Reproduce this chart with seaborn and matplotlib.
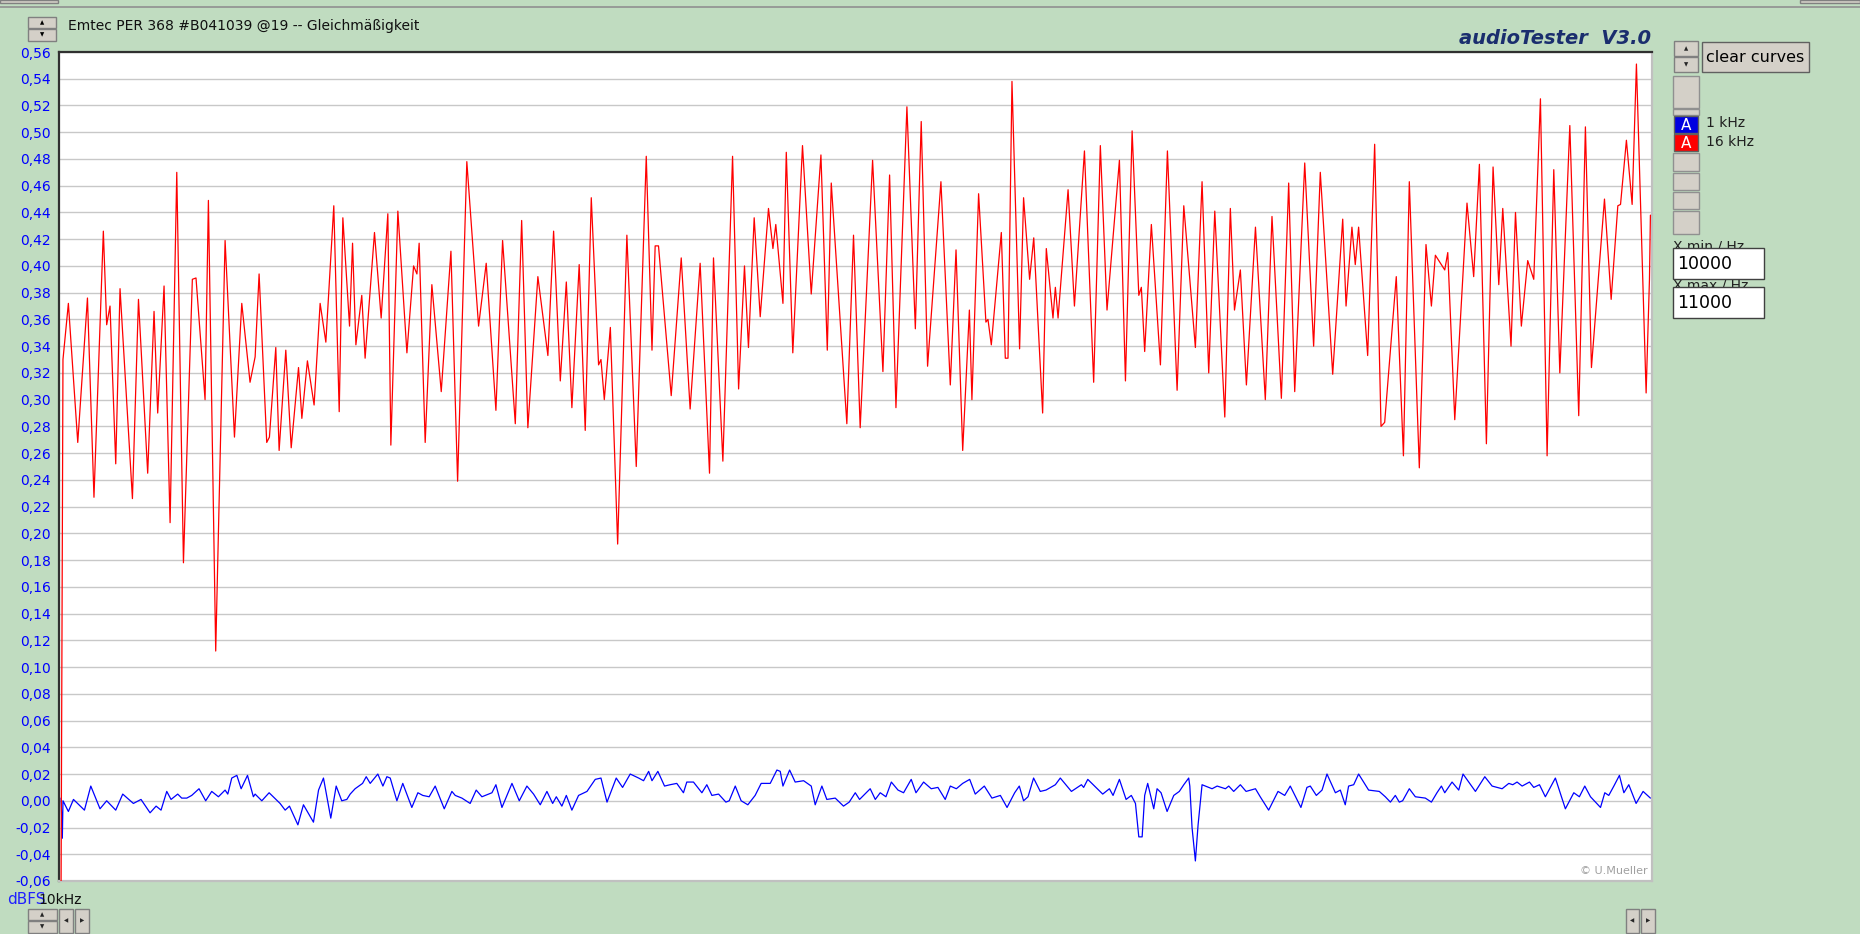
import numpy as np
import pandas as pd
import matplotlib
matplotlib.use("Agg")
import matplotlib.pyplot as plt
from matplotlib.patches import Rectangle
import seaborn as sns

# ---------------- data ----------------
red_hz = [10000.0, 10000.6, 10001.2, 10004.6, 10010.5, 10016.6, 10020.7, 10026.6, 10028.7, 10030.8, 10034.4, 10037.1,
          10044.9, 10048.7, 10054.5, 10058.5, 10060.8, 10064.8, 10068.6, 10072.8, 10077.0, 10082.6, 10084.9, 10090.6,
          10092.7, 10097.3, 10103.2, 10109.1, 10113.7, 10118.9,
          10122.1, 10124.6, 10129.4, 10131.1, 10135.1, 10137.2, 10141.4, 10144.8, 10149.4, 10151.5, 10155.0, 10159.2,
          10163.0, 10166.6, 10171.6, 10175.0, 10177.3, 10181.5, 10183.4, 10185.5, 10189.2, 10191.3, 10197.2, 10201.4,
          10205.6, 10207.5, 10211.9, 10217.6, 10221.8, 10223.9, 10225.3, 10229.1, 10233.3, 10239.2, 10245.3,
          10249.5, 10255.3, 10262.7, 10267.5, 10273.6, 10277.8, 10285.8, 10289.8, 10293.7, 10300.0, 10306.3, 10309.9,
          10314.1, 10317.9, 10321.4, 10326.0, 10329.8, 10333.6, 10338.2, 10339.7, 10341.8, 10345.6, 10350.2, 10356.0,
          10361.9, 10368.2, 10371.8,
          10373.8, 10375.9, 10383.9, 10390.2, 10395.8, 10402.1, 10408.0, 10410.5, 10416.4, 10422.5, 10426.3, 10430.0,
          10432.5, 10436.1, 10439.9, 10445.1, 10447.9, 10449.7, 10454.2, 10456.3, 10460.4, 10466.5, 10472.0, 10478.1,
          10482.1, 10484.6, 10494.4, 10498.6,
          10502.8, 10510.6, 10517.1, 10521.3, 10525.3, 10532.2, 10537.5, 10541.2, 10545.2, 10553.6, 10559.5, 10563.1,
          10567.3, 10571.5, 10573.1, 10577.3, 10581.9, 10583.2, 10585.3, 10591.6, 10594.1, 10595.8, 10598.3, 10603.1,
          10605.6, 10609.4, 10612.0, 10617.6, 10619.9, 10624.1, 10625.6,
          10627.3, 10633.6, 10637.6, 10643.9, 10649.7, 10653.9, 10658.1, 10665.9, 10669.7, 10673.9, 10678.1, 10679.7,
          10681.8, 10686.0, 10691.7, 10696.1, 10702.2, 10706.4, 10713.7, 10717.9, 10722.1, 10725.9, 10732.2, 10735.7,
          10738.3, 10742.0, 10745.8, 10751.5,
          10757.7, 10761.9, 10767.8, 10772.4, 10776.2, 10782.5, 10788.1, 10792.3, 10800.1, 10806.4, 10808.5, 10812.2,
          10814.3, 10816.4, 10822.1, 10826.5, 10830.5, 10832.8, 10840.1, 10844.6, 10848.3, 10854.6, 10858.8, 10862.2,
          10864.7, 10870.6, 10872.5, 10876.9,
          10884.6, 10888.8, 10892.4, 10896.8, 10901.0, 10904.6, 10907.1, 10912.3, 10915.1, 10918.8, 10922.8, 10926.6,
          10930.8, 10935.0, 10939.2, 10943.0, 10949.3, 10954.9, 10959.1, 10962.9, 10971.1, 10975.3, 10979.5, 10981.2,
          10984.9, 10988.5, 10991.2, 10997.3, 10999.4, 11000.0]
red_db = [-0.065, 0.13, 0.33, 0.372, 0.268, 0.376, 0.227, 0.426, 0.356, 0.370, 0.252, 0.383,
          0.226, 0.375, 0.245, 0.366, 0.290, 0.385, 0.208, 0.470, 0.178, 0.390, 0.391, 0.300,
          0.449, 0.112, 0.419, 0.272, 0.372, 0.313,
          0.332, 0.394, 0.268, 0.272, 0.339, 0.262, 0.337, 0.264, 0.324, 0.286, 0.329, 0.296,
          0.372, 0.343, 0.445, 0.291, 0.436, 0.355, 0.417, 0.341, 0.378, 0.331, 0.425, 0.361,
          0.439, 0.266, 0.441, 0.335, 0.400, 0.394, 0.417, 0.268, 0.386, 0.306, 0.411,
          0.239, 0.478, 0.355, 0.402, 0.292, 0.419, 0.282, 0.434, 0.279, 0.392, 0.333, 0.426,
          0.314, 0.388, 0.294, 0.401, 0.277, 0.451, 0.326, 0.330, 0.300, 0.354, 0.192, 0.423,
          0.250, 0.482, 0.337,
          0.415, 0.415, 0.303, 0.406, 0.293, 0.402, 0.245, 0.406, 0.254, 0.482, 0.308, 0.400,
          0.339, 0.436, 0.362, 0.443, 0.413, 0.431, 0.372, 0.485, 0.335, 0.490, 0.379, 0.483,
          0.337, 0.462, 0.282, 0.423,
          0.279, 0.479, 0.321, 0.468, 0.294, 0.519, 0.353, 0.508, 0.325, 0.463, 0.311, 0.412,
          0.262, 0.367, 0.300, 0.454, 0.358, 0.360, 0.341, 0.425, 0.331, 0.331, 0.538, 0.338,
          0.451, 0.390, 0.421, 0.290, 0.413, 0.361, 0.384,
          0.361, 0.457, 0.370, 0.486, 0.313, 0.490, 0.367, 0.479, 0.314, 0.501, 0.378, 0.384,
          0.336, 0.431, 0.326, 0.486, 0.307, 0.445, 0.339, 0.463, 0.320, 0.441, 0.287, 0.443,
          0.367, 0.397, 0.311, 0.429,
          0.300, 0.437, 0.301, 0.462, 0.306, 0.477, 0.340, 0.470, 0.319, 0.435, 0.370, 0.429,
          0.401, 0.429, 0.333, 0.491, 0.280, 0.283, 0.392, 0.258, 0.463, 0.249, 0.416, 0.370,
          0.408, 0.397, 0.410, 0.285,
          0.447, 0.392, 0.476, 0.267, 0.474, 0.386, 0.443, 0.340, 0.440, 0.355, 0.404, 0.390,
          0.525, 0.258, 0.472, 0.320, 0.505, 0.288, 0.504, 0.324, 0.450, 0.375, 0.445, 0.446,
          0.494, 0.446, 0.551, 0.305, 0.390, 0.438]

blue_hz = [10000.0, 10000.8, 10001.2, 10004.6, 10007.8, 10014.7, 10018.7, 10024.5, 10028.7, 10034.4, 10038.8, 10045.5,
           10050.3, 10056.0, 10059.8, 10062.9, 10066.5, 10069.2, 10073.4, 10075.9, 10079.1, 10082.2, 10086.8, 10091.0,
           10094.8, 10099.0, 10103.2, 10104.9, 10107.4, 10110.6, 10113.3, 10117.3, 10121.0,
           10122.1, 10126.3, 10130.9, 10137.8, 10141.0, 10143.7, 10149.0, 10152.5, 10158.8, 10162.0, 10165.1, 10169.7,
           10173.1, 10176.6, 10179.8, 10181.9, 10185.0, 10189.7, 10192.0, 10194.5, 10199.3, 10202.5, 10205.0, 10207.1,
           10211.3, 10215.0, 10220.7, 10224.5, 10227.6, 10231.6, 10235.4, 10241.1, 10245.9,
           10248.0, 10252.2, 10257.4, 10261.2, 10264.8, 10271.1, 10273.6, 10277.4, 10283.7, 10288.3, 10293.1, 10297.3,
           10301.5, 10305.7, 10309.3, 10311.6, 10315.1, 10317.9, 10321.4, 10325.6, 10330.9, 10336.1, 10339.7, 10343.5,
           10349.3, 10353.3, 10358.1, 10363.4, 10366.5, 10369.7, 10371.8,
           10375.5, 10379.7, 10383.2, 10387.4, 10391.6, 10393.7, 10397.9, 10403.2, 10406.3, 10409.5, 10413.7, 10418.3,
           10420.4, 10424.2, 10427.9, 10432.1, 10436.7, 10440.5, 10446.2, 10450.4, 10452.5, 10454.2, 10458.4, 10461.9,
           10467.2, 10472.0, 10474.5, 10478.7, 10481.8, 10487.1, 10492.3, 10495.9,
           10499.7, 10502.4, 10509.1, 10512.3, 10515.4, 10519.0, 10522.4, 10526.6, 10530.1, 10534.9, 10537.9, 10542.7,
           10547.5, 10551.7, 10556.3, 10559.5, 10563.3, 10567.3, 10571.7, 10575.2, 10580.9, 10585.7, 10591.0, 10595.2,
           10600.0, 10602.9, 10605.6, 10608.4, 10611.9, 10616.1, 10619.7,
           10625.6, 10628.7, 10635.7, 10642.0, 10643.4, 10646.0, 10655.4, 10659.6, 10661.9, 10665.9, 10670.1, 10673.4,
           10676.0, 10678.1, 10680.2, 10681.8, 10683.7, 10687.5, 10689.6, 10692.1, 10695.9, 10700.1, 10703.6, 10706.4,
           10709.5, 10710.2, 10711.6, 10713.7, 10715.4, 10717.9, 10724.2, 10727.4, 10732.6, 10734.7, 10737.8, 10742.0,
           10745.6, 10751.5,
           10754.5, 10759.8, 10765.7, 10769.9, 10773.4, 10780.1, 10783.9, 10786.0, 10789.8, 10793.4, 10796.5, 10801.8,
           10804.9, 10808.0, 10810.1, 10813.3, 10816.4, 10822.7, 10829.4, 10833.2, 10836.4, 10839.5, 10842.0, 10844.1,
           10848.3, 10852.1, 10858.4, 10862.2, 10865.7, 10868.5, 10870.6, 10875.2,
           10879.4, 10882.1, 10889.9, 10895.8, 10900.4, 10906.7, 10910.9, 10913.4, 10916.1, 10919.3, 10923.9, 10926.6,
           10930.2, 10933.9, 10940.2, 10946.5, 10951.8, 10955.3, 10958.7, 10962.3, 10968.6, 10971.3, 10973.8, 10977.0,
           10980.5, 10983.3, 10986.4, 10991.0, 10995.4, 11000.0]
blue_db = [0.002, -0.028, 0.000, -0.008, 0.001, -0.007, 0.011, -0.006, 0.000, -0.007, 0.005, -0.002,
           0.001, -0.009, -0.004, -0.007, 0.007, 0.001, 0.005, 0.002, 0.002, 0.004, 0.009, 0.000,
           0.007, 0.003, 0.008, 0.005, 0.017, 0.019, 0.009, 0.019, 0.003,
           0.005, 0.000, 0.006, -0.002, -0.007, -0.004, -0.018, -0.003, -0.016, 0.008, 0.017, -0.013,
           0.011, 0.000, 0.001, 0.005, 0.009, 0.013, 0.018, 0.013, 0.020, 0.011, 0.018, 0.017,
           0.000, 0.013, -0.005, 0.006, 0.004, 0.003, 0.011, -0.006, 0.007,
           0.004, 0.002, -0.002, 0.008, 0.003, 0.006, 0.012, -0.005, 0.013, 0.000, 0.011, 0.005,
           -0.003, 0.007, -0.002, 0.003, -0.004, 0.004, -0.007, 0.004, 0.007, 0.016, 0.017, -0.001,
           0.017, 0.010, 0.020, 0.017, 0.015, 0.022, 0.015,
           0.022, 0.011, 0.012, 0.013, 0.006, 0.014, 0.014, 0.006, 0.012, 0.004, 0.005, -0.001,
           0.000, 0.011, 0.000, -0.003, 0.004, 0.013, 0.013, 0.023, 0.022, 0.011, 0.023, 0.014,
           0.015, 0.011, -0.003, 0.011, 0.001, 0.002, -0.004, -0.001,
           0.006, 0.001, 0.009, 0.001, 0.006, 0.003, 0.014, 0.008, 0.006, 0.016, 0.006, 0.014,
           0.009, 0.010, 0.001, 0.011, 0.009, 0.013, 0.016, 0.005, 0.011, 0.002, 0.004, -0.005,
           0.006, 0.011, 0.000, 0.003, 0.017, 0.007, 0.008,
           0.012, 0.017, 0.007, 0.012, 0.010, 0.016, 0.005, 0.009, 0.004, 0.016, 0.001, 0.004,
           -0.002, -0.027, -0.027, 0.004, 0.013, -0.006, 0.009, 0.006, -0.008, 0.004, 0.007, 0.012,
           0.017, 0.011, -0.020, -0.045, -0.018, 0.012, 0.009, 0.011, 0.009, 0.011, 0.007, 0.012,
           0.007, 0.009,
           0.003, -0.007, 0.007, 0.004, 0.011, -0.005, 0.010, 0.011, 0.004, 0.008, 0.020, 0.006,
           0.008, -0.003, 0.011, 0.012, 0.020, 0.008, 0.007, 0.003, -0.001, 0.004, -0.001, 0.000,
           0.009, 0.003, 0.002, -0.001, 0.006, 0.011, 0.006, 0.014,
           0.008, 0.020, 0.007, 0.018, 0.011, 0.009, 0.013, 0.012, 0.014, 0.011, 0.014, 0.010,
           0.012, 0.003, 0.017, -0.006, 0.006, 0.003, 0.011, 0.003, -0.005, 0.006, 0.004, 0.011,
           0.019, 0.006, 0.012, -0.002, 0.007, 0.002]

y_ticks = [-0.06, -0.04, -0.02, 0.00, 0.02, 0.04, 0.06, 0.08, 0.10, 0.12, 0.14, 0.16, 0.18, 0.20,
           0.22, 0.24, 0.26, 0.28, 0.30, 0.32, 0.34, 0.36, 0.38, 0.40, 0.42, 0.44, 0.46, 0.48, 0.50,
           0.52, 0.54, 0.56]
y_tick_labels = [f"{v:.2f}".replace(".", ",") for v in y_ticks]
legend_labels = ["1 kHz", "16 kHz"]
title = "Emtec PER 368 #B041039 @19 -- Gleichmäßigkeit"

# ---------------- style ----------------
sns.set_style("white")
plt.rcParams["font.family"] = ["DejaVu Sans"]

W, H = 1860, 934
BG = "#C0DCC0"
BTN = "#D4D0C8"

fig = plt.figure(figsize=(W / 100, H / 100), dpi=100, facecolor=BG)


def fx(x):
    return x / W


def fy(y):
    return 1 - y / H


def box(x0, y0, x1, y1, face=BTN, edge="#808080", lw=1.0, z=1):
    fig.patches.append(Rectangle((fx(x0), fy(y1)), fx(x1) - fx(x0), fy(y0) - fy(y1),
                                 transform=fig.transFigure, facecolor=face,
                                 edgecolor=edge, linewidth=lw, zorder=z))


ax = fig.add_axes([fx(59), fy(881), fx(1652) - fx(59), fy(52) - fy(881)])
ax.set_facecolor("white")

df_red = pd.DataFrame({"Hz": red_hz, "dBFS": red_db})
df_blue = pd.DataFrame({"Hz": blue_hz, "dBFS": blue_db})
sns.lineplot(data=df_blue, x="Hz", y="dBFS", color="#0000FF", linewidth=0.9,
             estimator=None, sort=False, ax=ax, zorder=3)
sns.lineplot(data=df_red, x="Hz", y="dBFS", color="#FF0000", linewidth=0.9,
             estimator=None, sort=False, ax=ax, zorder=4)

ax.set_xlim(9998.7, 11001.0)
ax.set_ylim(-0.06, 0.56)
ax.set_xticks([])
ax.set_yticks(y_ticks)
ax.set_yticklabels(y_tick_labels, color="#0000FF", fontsize=10)
ax.tick_params(axis="y", length=0, pad=6)
ax.set_xlabel("")
ax.set_ylabel("")
ax.yaxis.grid(True, color="#C8C8C8", linewidth=1.0)
ax.xaxis.grid(False)
ax.set_axisbelow(True)
for side in ("left", "top"):
    ax.spines[side].set_color("#303030")
    ax.spines[side].set_linewidth(1.6)
for side in ("right", "bottom"):
    ax.spines[side].set_color("#C0C0C0")
    ax.spines[side].set_linewidth(1.6)

ax.text(0.9975, 0.006, "© U.Mueller", transform=ax.transAxes, ha="right", va="bottom",
        fontsize=8, color="#A0A0A0")

# ---------------- surrounding UI ----------------
fig.add_artist(plt.Line2D([0, 1], [fy(7), fy(7)], transform=fig.transFigure,
                          color="#909090", linewidth=1.2))
box(0, 0, 58, 3)
box(1800, 0, 1860, 3)

# title spinner
box(28, 17, 56, 28)
box(28, 29, 56, 41)
fig.text(fx(42), fy(22.5), "▲", fontsize=4, ha="center", va="center", color="black")
fig.text(fx(42), fy(35), "▼", fontsize=4, ha="center", va="center", color="black")
fig.text(fx(68), fy(26), title, fontsize=10, ha="left", va="center", color="#101010")

fig.text(fx(1651), fy(39), "audioTester  V3.0", fontsize=14, fontweight="bold",
         fontstyle="italic", ha="right", va="center", color="#1A2E6E")

# right panel
box(1674, 41, 1698, 56)
box(1674, 57, 1698, 72)
fig.text(fx(1686), fy(48.5), "▲", fontsize=4, ha="center", va="center")
fig.text(fx(1686), fy(64.5), "▼", fontsize=4, ha="center", va="center")
box(1702, 42, 1809, 72, edge="#606060")
fig.text(fx(1755.5), fy(57), "clear curves", fontsize=11.5, ha="center", va="center", color="black")

box(1673, 76, 1699, 108, edge="#909090")
box(1673, 109, 1699, 115, edge="#909090")
box(1674, 116, 1698, 133, face="#0000E0", edge="#606060", z=2)
box(1674, 134, 1698, 151, face="#FF0000", edge="#606060", z=2)
fig.text(fx(1686), fy(125), "A", fontsize=11, ha="center", va="center", color="white")
fig.text(fx(1686), fy(143), "A", fontsize=11, ha="center", va="center", color="white")
fig.text(fx(1706), fy(123), legend_labels[0], fontsize=10, ha="left", va="center", color="#202020")
fig.text(fx(1706), fy(142), legend_labels[1], fontsize=10, ha="left", va="center", color="#202020")
for y0, y1 in [(153, 171), (173, 190), (192, 209), (211, 234)]:
    box(1673, y0, 1699, y1, edge="#909090")

# labels partly hidden behind the entry boxes, as in the original window
fig.text(fx(1673), fy(246), "X min / Hz", fontsize=10, ha="left", va="center",
         color="#202020", zorder=1)
box(1673, 248, 1764, 279, face="white", edge="#404040", z=5)
fig.text(fx(1677), fy(264), "10000", fontsize=12.5, ha="left", va="center", color="black", zorder=6)
fig.text(fx(1673), fy(285), "X max / Hz", fontsize=10, ha="left", va="center",
         color="#202020", zorder=1)
box(1673, 287, 1764, 318, face="white", edge="#404040", z=5)
fig.text(fx(1677), fy(303), "11000", fontsize=12.5, ha="left", va="center", color="black", zorder=6)

# bottom widgets
fig.text(fx(7), fy(900), "dBFS", fontsize=11, ha="left", va="center", color="#2020FF")
fig.text(fx(38), fy(900), "10kHz", fontsize=10, ha="left", va="center", color="#101010")
box(28, 909, 57, 920)
box(28, 921, 57, 933)
fig.text(fx(42.5), fy(914.5), "▲", fontsize=4, ha="center", va="center")
fig.text(fx(42.5), fy(927), "▼", fontsize=4, ha="center", va="center")
box(59, 909, 73, 933)
box(75, 909, 89, 933)
fig.text(fx(66), fy(921), "◀", fontsize=4, ha="center", va="center")
fig.text(fx(82), fy(921), "▶", fontsize=4, ha="center", va="center")
box(1626, 909, 1639, 933)
box(1641, 909, 1655, 933)
fig.text(fx(1632.5), fy(921), "◀", fontsize=4, ha="center", va="center")
fig.text(fx(1648), fy(921), "▶", fontsize=4, ha="center", va="center")

fig.savefig("out.png", dpi=100, facecolor=BG)
